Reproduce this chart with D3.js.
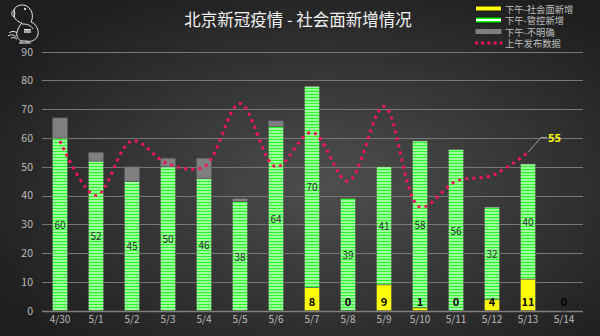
<!DOCTYPE html>
<html><head><meta charset="utf-8">
<script src="https://cdn.jsdelivr.net/npm/d3@7"></script>
<style>html,body{margin:0;padding:0;background:#2a2a2a;}svg{display:block;}</style>
</head><body>
<svg id="chart" width="600" height="336"></svg>
<script>
const categories = ["4/30","5/1","5/2","5/3","5/4","5/5","5/6","5/7","5/8","5/9","5/10","5/11","5/12","5/13","5/14"];
const yellowVals = [null,null,null,null,null,null,null,8,0,9,1,0,4,11,0];
const greenVals  = [60,52,45,50,46,38,64,70,39,41,58,56,32,40,0];
const grayVals   = [7,3,5,3,7,1,2,0,0,0,0,0,0,0,0];
const morningVals = [59,40,59,51,50,72,50,62,45,71,36,45,47,55,null];
const yTicks = [0,10,20,30,40,50,60,70,80,90];
const legendLabels = ["下午-社会面新增","下午-管控新增","下午-不明确","上午发布数据"];
const titleText = "北京新冠疫情 - 社会面新增情况";

const svg = d3.select("#chart");
const W = 600, H = 336;
const font = "'Noto Sans CJK SC','Noto Sans',sans-serif";

const defs = svg.append("defs");
const rg = defs.append("radialGradient").attr("id","bg").attr("cx","55%").attr("cy","55%").attr("r","65%");
rg.append("stop").attr("offset","0%").attr("stop-color","#4e4e4e");
rg.append("stop").attr("offset","100%").attr("stop-color","#1e1e1e");
const pat = defs.append("pattern").attr("id","stripes").attr("patternUnits","userSpaceOnUse")
  .attr("width",4).attr("height",3).attr("y",0.7);
pat.append("rect").attr("width",4).attr("height",3).attr("fill","#00ff00");
pat.append("rect").attr("y",1.5).attr("width",4).attr("height",1.4).attr("fill","#ffffff");

svg.append("rect").attr("width",W).attr("height",H).attr("fill","url(#bg)");

const x = d3.scaleBand().domain(categories).range([42,582]).paddingInner(0.58).paddingOuter(0.29);
const y = d3.scaleLinear().domain([0,90]).range([310.7,51.7]);

// gridlines
svg.append("g").selectAll("line").data(yTicks).join("line")
  .attr("x1",42).attr("x2",583)
  .attr("y1",d=>Math.round(y(d))+0.5).attr("y2",d=>Math.round(y(d))+0.5)
  .attr("stroke",d=>d===0?"#808080":"#787878").attr("stroke-width",d=>d===0?1.6:1.2);

// y axis labels
const yAxis = d3.axisLeft(y).tickValues(yTicks).tickSize(0).tickPadding(0);
const yg = svg.append("g").attr("transform","translate(33,0)").call(yAxis);
yg.select(".domain").remove();
yg.selectAll("text").attr("fill","#bdbdbd").style("font-family",font).style("font-size","10.5px");

// x axis labels
const xAxis = d3.axisBottom(x).tickSize(0).tickPadding(0);
const xg = svg.append("g").attr("transform","translate(0,316)").call(xAxis);
xg.select(".domain").remove();
xg.selectAll("text").attr("fill","#bdbdbd").style("font-family",font).style("font-size","10px");

// bars
const rows = categories.map((c,i)=>{
  const yl = yellowVals[i]||0;
  return {c, yl, g:greenVals[i], gr:grayVals[i], y0:0, y1:yl, y2:yl+greenVals[i], y3:yl+greenVals[i]+grayVals[i]};
});
const bars = svg.append("g");
bars.selectAll(".yb").data(rows.filter(r=>r.yl>0)).join("rect")
  .attr("x",r=>x(r.c)).attr("width",x.bandwidth())
  .attr("y",r=>y(r.y1)).attr("height",r=>y(0)-y(r.y1))
  .attr("fill","#ffff00").attr("stroke","#505050").attr("stroke-width",0.6);
bars.selectAll(".gb").data(rows.filter(r=>r.g>0)).join("rect")
  .attr("x",r=>x(r.c)).attr("width",x.bandwidth())
  .attr("y",r=>y(r.y2)).attr("height",r=>y(r.y1)-y(r.y2))
  .attr("fill","url(#stripes)").attr("stroke","#505050").attr("stroke-width",0.6);
bars.selectAll(".grb").data(rows.filter(r=>r.gr>0)).join("rect")
  .attr("x",r=>x(r.c)).attr("width",x.bandwidth())
  .attr("y",r=>y(r.y3)).attr("height",r=>y(r.y2)-y(r.y3))
  .attr("fill","#7f7f7f").attr("stroke","#555").attr("stroke-width",0.6);

// green labels
svg.append("g").selectAll("text").data(rows).join("text")
  .attr("x",r=>x(r.c)+x.bandwidth()/2).attr("y",r=>(y(r.y1)+y(r.y2))/2)
  .attr("text-anchor","middle").attr("dominant-baseline","central")
  .attr("fill","#2a2a2a").style("font-family",font).style("font-size",r=>r.g===0?"8.5px":"10px")
  .text(r=>r.g);
// yellow labels
svg.append("g").selectAll("text").data(rows.filter((r,i)=>yellowVals[i]!==null)).join("text")
  .attr("x",r=>x(r.c)+x.bandwidth()/2).attr("y",y(0)-10)
  .attr("text-anchor","middle").attr("dominant-baseline","central")
  .attr("fill","#000").style("font-family",font).style("font-size","11px").style("font-weight","bold")
  .text(r=>r.yl);

// morning line
const pts = categories.map((c,i)=>({c,v:morningVals[i]})).filter(d=>d.v!==null);
const line = d3.line().x(d=>x(d.c)+x.bandwidth()/2).y(d=>y(d.v)).curve(d3.curveCatmullRom.alpha(0.5));
svg.append("path").attr("d",line(pts)).attr("fill","none")
  .attr("stroke","#f0145a").attr("stroke-width",3).attr("stroke-dasharray","3 4.2");

// last point callout
const last = pts[pts.length-1];
const lx = x(last.c)+x.bandwidth()/2, ly = y(last.v);
svg.append("path").attr("d",`M${lx},${ly} L${lx+13},${ly-15} L${lx+19},${ly-15}`)
  .attr("fill","none").attr("stroke","#a0a0a0").attr("stroke-width",1);
svg.append("text").attr("x",lx+20).attr("y",ly-15).attr("dominant-baseline","central")
  .attr("fill","#ffff00").style("font-family",font).style("font-size","11px").style("font-weight","bold")
  .text(last.v);

// title
svg.append("text").attr("x",298).attr("y",19).attr("text-anchor","middle").attr("dominant-baseline","central")
  .attr("fill","#f2f2f2").style("font-family",font).style("font-size","16.5px").text(titleText);

// legend
const lg = svg.append("g");
const ly0 = [8.5,20,31.5,43];
lg.append("rect").attr("x",475.5).attr("y",6).attr("width",26).attr("height",5).attr("fill","#ffff00").attr("stroke","#1a1a1a").attr("stroke-width",1);
lg.append("rect").attr("x",475.5).attr("y",17).attr("width",26).attr("height",6).attr("fill","#00ff00").attr("stroke","#1a1a1a").attr("stroke-width",1);
lg.append("rect").attr("x",476).attr("y",19).attr("width",25).attr("height",2).attr("fill","#ffffff");
lg.append("rect").attr("x",475.5).attr("y",29).attr("width",26).attr("height",5).attr("fill","#7f7f7f");
lg.append("line").attr("x1",475).attr("x2",502).attr("y1",43).attr("y2",43)
  .attr("stroke","#f0145a").attr("stroke-width",3).attr("stroke-dasharray","3 3.2");
lg.selectAll("text").data(legendLabels).join("text")
  .attr("x",505).attr("y",(d,i)=>ly0[i]).attr("dominant-baseline","central")
  .attr("fill","#bfbfbf").style("font-family",font).style("font-size","9.3px").text(d=>d);

// logo (parrot sketch)
const logo = svg.append("g").attr("fill","none").attr("stroke","#e8e8e8").attr("stroke-width",1);
logo.append("path").attr("d","M14,10 C16,4 26,3 30,9 C33,13 33,18 31,22 C37,24 40,32 37,37 C35,41 30,42 26,41 L22,41 C18,40 16,36 17,32 C18,28 20,25 22,23 C18,22 14,19 14,15 Z");
logo.append("path").attr("d","M14,10 C11,11 11,16 14,17 C15,15 15,12 14,10 Z");
logo.append("path").attr("d","M22,24 C27,24 31,25 33,29");
logo.append("path").attr("d","M9,33 C11,31 15,31 17,33 M8,36 C11,34 15,35 16,37 M11,38 C13,37 16,38 17,39");
logo.append("path").attr("d","M21,41 L21,43 M27,41 L27,43 M19,43 L31,43");
logo.append("circle").attr("cx",25).attr("cy",9).attr("r",0.8).attr("fill","#e8e8e8");
svg.append("rect").attr("x",24).attr("y",29).attr("width",7).attr("height",4).attr("fill","#e8e8e8");
svg.append("text").attr("x",27.5).attr("y",31.2).attr("text-anchor","middle").attr("dominant-baseline","central")
  .attr("fill","#333").style("font-family",font).style("font-size","3.5px").text("探微");
</script>
</body></html>
